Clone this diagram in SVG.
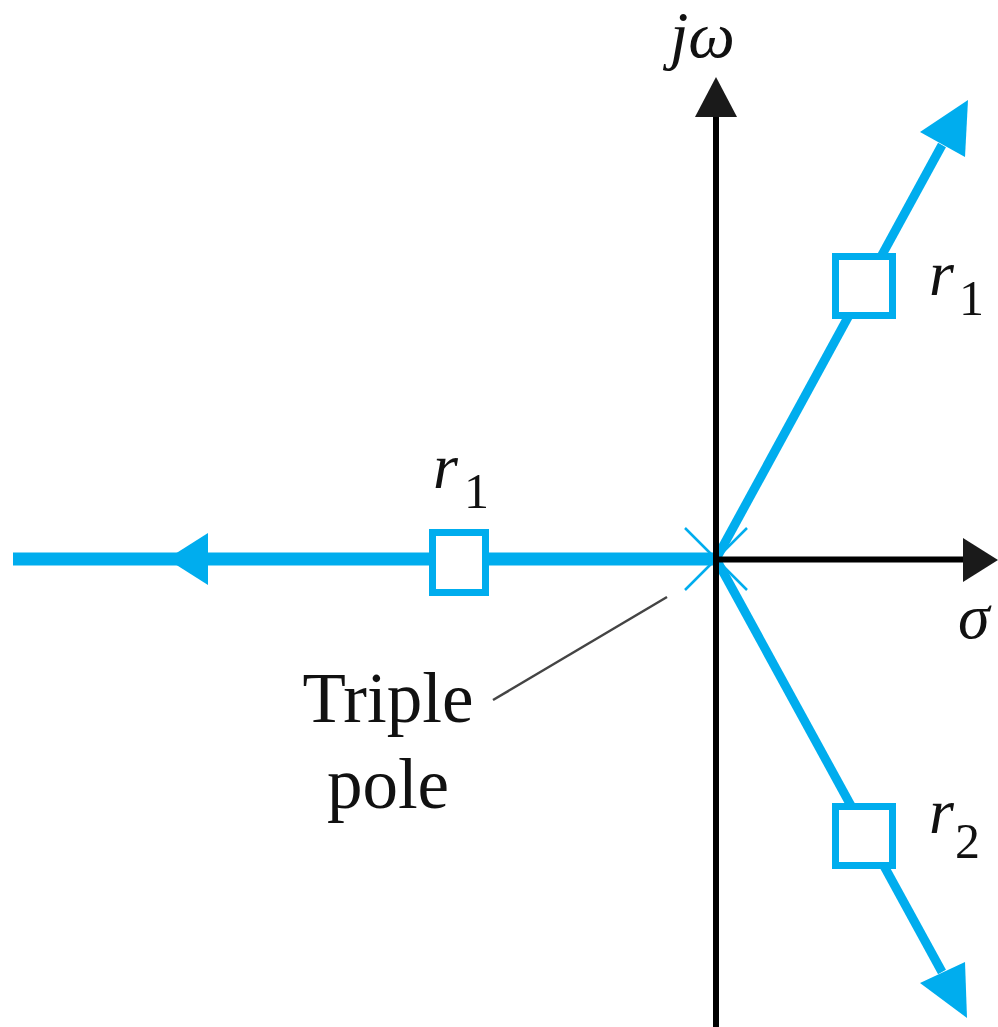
<svg xmlns="http://www.w3.org/2000/svg" width="998" height="1027" viewBox="0 0 998 1027">
<style>
.blue{stroke:#00ADEE;fill:none;stroke-linecap:butt}
.bfill{fill:#00ADEE;stroke:none}
.axis{stroke:#000;stroke-width:6;fill:none}
.afill{fill:#1a1a1a;stroke:none}
.sq{fill:#fff;stroke:#00ADEE;stroke-width:7}
.lab{font-family:"Liberation Serif","Times New Roman",serif;fill:#111}
.it{font-style:italic}
</style>
<rect width="998" height="1027" fill="#fff"/>
<g id="connectors">
  <line class="blue" x1="685" y1="528" x2="747" y2="590" stroke-width="2.5"/>
  <line class="blue" x1="685" y1="590" x2="747" y2="528" stroke-width="2.5"/>
  <line class="blue" x1="13" y1="559" x2="716" y2="559" stroke-width="13"/>
  <polygon class="bfill" points="167,559 208,533 208,585"/>
  <line class="blue" x1="716" y1="559" x2="942" y2="145" stroke-width="9"/>
  <polygon class="bfill" points="968,100 920,132 965,157"/>
  <line class="blue" x1="716" y1="559" x2="942" y2="972" stroke-width="9"/>
  <polygon class="bfill" points="967,1018 920,983 965,962"/>
  <line class="axis" x1="716" y1="1027" x2="716" y2="112"/>
  <polygon class="afill" points="716,77 695,117 737,117"/>
  <line class="axis" x1="716" y1="559.5" x2="966" y2="559.5"/>
  <polygon class="afill" points="998,560 963,538 963,582"/>
  <line x1="493" y1="700" x2="667" y2="597" stroke="#444" stroke-width="2.5"/>
</g>
<g id="node-r1-left">
  <rect class="sq" x="432.5" y="532.5" width="53" height="60"/>
  <text class="lab"><tspan class="it" x="433" y="488" font-size="64">r</tspan><tspan x="464" y="508" font-size="50">1</tspan></text>
</g>
<g id="node-r1-upper">
  <rect class="sq" x="835.5" y="256.5" width="57" height="59"/>
  <text class="lab"><tspan class="it" x="929" y="295" font-size="64">r</tspan><tspan x="959" y="315" font-size="50">1</tspan></text>
</g>
<g id="node-r2-lower">
  <rect class="sq" x="835.5" y="806.5" width="57" height="59"/>
  <text class="lab"><tspan class="it" x="929" y="833" font-size="64">r</tspan><tspan x="955" y="858" font-size="50">2</tspan></text>
</g>
<g id="node-triple-pole">
  <text class="lab" text-anchor="middle" font-size="71"><tspan x="388" y="722">Triple</tspan><tspan x="388" y="808">pole</tspan></text>
</g>
<g id="axis-labels">
  <text class="lab it" x="670" y="57" font-size="66">jω</text>
  <text class="lab it" x="958" y="638" font-size="64">σ</text>
</g>
</svg>
